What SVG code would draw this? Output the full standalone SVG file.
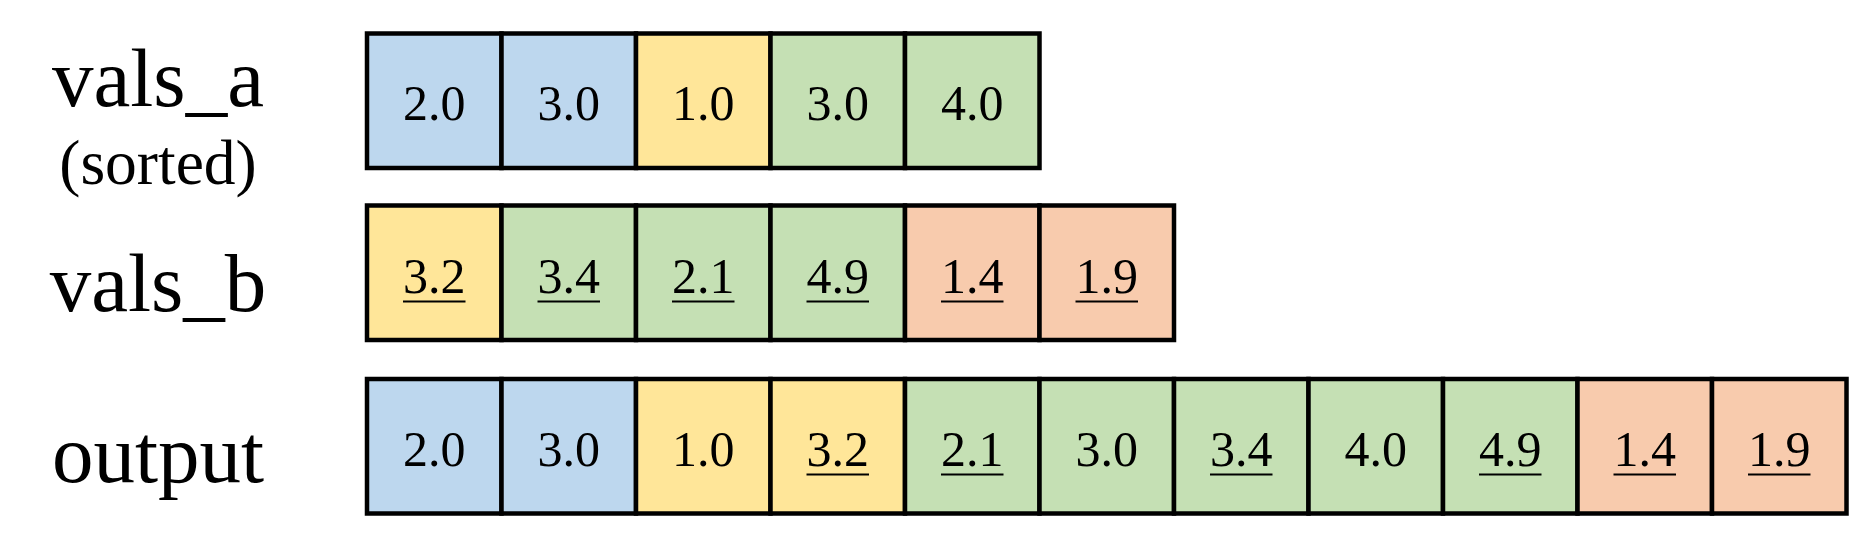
<svg xmlns="http://www.w3.org/2000/svg" width="1850" height="552" viewBox="0 0 1850 552">
<style>
.c{stroke:#000;stroke-width:4.5}
.b{fill:#BDD7EE}.y{fill:#FFE699}.g{fill:#C5E0B4}.o{fill:#F8CBAD}
.n{font-family:"Liberation Serif","Times New Roman",serif;font-size:50px;text-anchor:middle;fill:#000}
.lb{font-family:"Liberation Serif","Times New Roman",serif;font-size:83px;text-anchor:middle;fill:#000}
.sm{font-family:"Liberation Serif","Times New Roman",serif;font-size:63.5px;text-anchor:middle;fill:#000}
.u{stroke:#000;stroke-width:2}
</style>
<rect width="1850" height="552" fill="#fff"/>
<g id="labels">
<text class="lb" x="158" y="106">vals_a</text>
<text class="sm" x="158" y="184">(sorted)</text>
<text class="lb" x="158" y="311">vals_b</text>
<text class="lb" x="158" y="482">output</text>
</g>
<g id="vals_a">
<rect class="c b" x="367" y="33.5" width="134.5" height="134.5"/>
<rect class="c b" x="501.5" y="33.5" width="134.5" height="134.5"/>
<rect class="c y" x="636" y="33.5" width="134.5" height="134.5"/>
<rect class="c g" x="770.5" y="33.5" width="134.5" height="134.5"/>
<rect class="c g" x="905" y="33.5" width="134.5" height="134.5"/>
<text class="n" x="434.25" y="120">2.0</text>
<text class="n" x="568.75" y="120">3.0</text>
<text class="n" x="703.25" y="120">1.0</text>
<text class="n" x="837.75" y="120">3.0</text>
<text class="n" x="972.25" y="120">4.0</text>
</g>
<g id="vals_b">
<rect class="c y" x="367" y="205.5" width="134.5" height="134.5"/>
<rect class="c g" x="501.5" y="205.5" width="134.5" height="134.5"/>
<rect class="c g" x="636" y="205.5" width="134.5" height="134.5"/>
<rect class="c g" x="770.5" y="205.5" width="134.5" height="134.5"/>
<rect class="c o" x="905" y="205.5" width="134.5" height="134.5"/>
<rect class="c o" x="1039.5" y="205.5" width="134.5" height="134.5"/>
<text class="n" x="434.25" y="292.5">3.2</text>
<text class="n" x="568.75" y="292.5">3.4</text>
<text class="n" x="703.25" y="292.5">2.1</text>
<text class="n" x="837.75" y="292.5">4.9</text>
<text class="n" x="972.25" y="292.5">1.4</text>
<text class="n" x="1106.75" y="292.5">1.9</text>
<line class="u" x1="403" x2="465.5" y1="301.5" y2="301.5"/>
<line class="u" x1="537.5" x2="600" y1="301.5" y2="301.5"/>
<line class="u" x1="672" x2="734.5" y1="301.5" y2="301.5"/>
<line class="u" x1="806.5" x2="869" y1="301.5" y2="301.5"/>
<line class="u" x1="941" x2="1003.5" y1="301.5" y2="301.5"/>
<line class="u" x1="1075.5" x2="1138" y1="301.5" y2="301.5"/>
</g>
<g id="output">
<rect class="c b" x="367" y="379" width="134.5" height="134.5"/>
<rect class="c b" x="501.5" y="379" width="134.5" height="134.5"/>
<rect class="c y" x="636" y="379" width="134.5" height="134.5"/>
<rect class="c y" x="770.5" y="379" width="134.5" height="134.5"/>
<rect class="c g" x="905" y="379" width="134.5" height="134.5"/>
<rect class="c g" x="1039.5" y="379" width="134.5" height="134.5"/>
<rect class="c g" x="1174" y="379" width="134.5" height="134.5"/>
<rect class="c g" x="1308.5" y="379" width="134.5" height="134.5"/>
<rect class="c g" x="1443" y="379" width="134.5" height="134.5"/>
<rect class="c o" x="1577.5" y="379" width="134.5" height="134.5"/>
<rect class="c o" x="1712" y="379" width="134.5" height="134.5"/>
<text class="n" x="434.25" y="465.5">2.0</text>
<text class="n" x="568.75" y="465.5">3.0</text>
<text class="n" x="703.25" y="465.5">1.0</text>
<text class="n" x="837.75" y="465.5">3.2</text>
<text class="n" x="972.25" y="465.5">2.1</text>
<text class="n" x="1106.75" y="465.5">3.0</text>
<text class="n" x="1241.25" y="465.5">3.4</text>
<text class="n" x="1375.75" y="465.5">4.0</text>
<text class="n" x="1510.25" y="465.5">4.9</text>
<text class="n" x="1644.75" y="465.5">1.4</text>
<text class="n" x="1779.25" y="465.5">1.9</text>
<line class="u" x1="806.5" x2="869" y1="474.5" y2="474.5"/>
<line class="u" x1="941" x2="1003.5" y1="474.5" y2="474.5"/>
<line class="u" x1="1210" x2="1272.5" y1="474.5" y2="474.5"/>
<line class="u" x1="1479" x2="1541.5" y1="474.5" y2="474.5"/>
<line class="u" x1="1613.5" x2="1676" y1="474.5" y2="474.5"/>
<line class="u" x1="1748" x2="1810.5" y1="474.5" y2="474.5"/>
</g>
<g id="connectors"></g>
</svg>
